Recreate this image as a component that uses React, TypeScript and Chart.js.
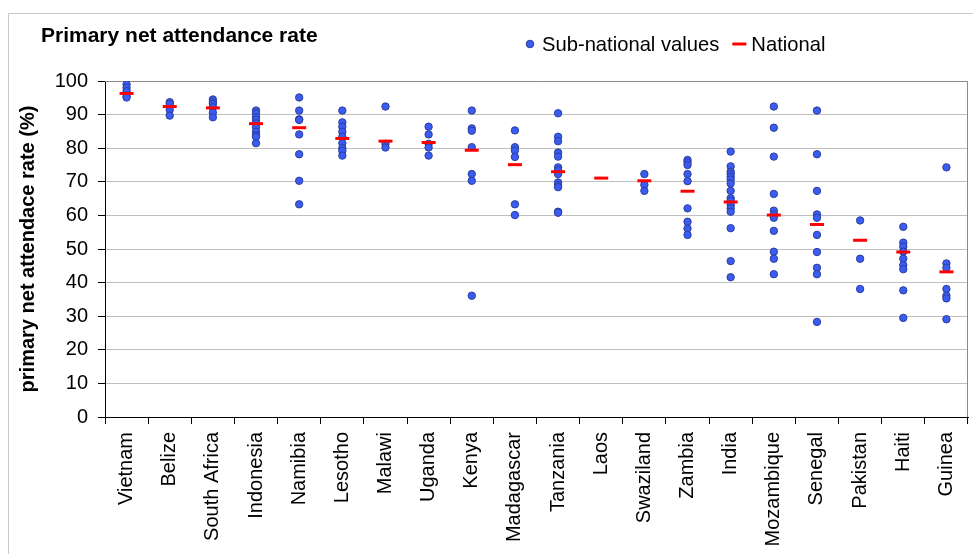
import React, { useEffect, useRef } from "react";
import { Chart, registerables } from "chart.js";

Chart.register(...registerables);

const countries = [
  "Vietnam", "Belize", "South Africa", "Indonesia", "Namibia", "Lesotho", "Malawi",
  "Uganda", "Kenya", "Madagascar", "Tanzania", "Laos", "Swaziland", "Zambia",
  "India", "Mozambique", "Senegal", "Pakistan", "Haiti", "Guinea",
];

const national = [96.3, 92.4, 92, 87.3, 86.1, 82.9, 82.1, 81.7, 79.4, 75.1, 73.0, 71.1, 70.3, 67.2, 64.0, 60.1, 57.3, 52.6, 49.1, 43.2];

const vietnam = [99, 98, 97, 95.5, 95.1];
const belize = [93.7, 93.2, 91.4, 89.7];
const southAfrica = [94.5, 93.8, 93.2, 92.2, 90.6, 89.2];
const indonesia = [91.2, 90.4, 89.2, 88.4, 87.4, 86.2, 84.9, 83.9, 83.4, 81.5];
const namibia = [95.1, 91.2, 88.6, 88.4, 84.1, 78.2, 70.3, 63.3];
const lesotho = [91.2, 87.7, 86.4, 84.9, 83.4, 81.5, 80, 79.2, 77.8];
const malawi = [92.4, 81.3, 80.2];
const uganda = [86.4, 84.1, 81.3, 80.2, 77.8];
const kenya = [91.2, 85.9, 85.2, 80.3, 72.3, 70.3, 36.1];
const madagascar = [85.3, 80.3, 79.3, 77.4, 63.3, 60.1];
const tanzania = [90.4, 83.4, 82.1, 78.7, 77.5, 74.3, 73.5, 72.3, 69.8, 69.0, 68.4, 61.1, 60.8];
const laos: number[] = [];
const swaziland = [72.3, 69.1, 67.3];
const zambia = [76.5, 75.8, 75.0, 72.3, 70.2, 62.1, 58.1, 56.1, 54.2];
const india = [79.0, 74.6, 73.0, 72.3, 71.5, 70.7, 69.5, 67.3, 65.1, 64.3, 63.1, 62.1, 61.1, 56.2, 46.4, 41.6];
const mozambique = [92.4, 86.1, 77.5, 66.4, 61.4, 60.3, 59.3, 55.4, 49.2, 47.1, 42.5];
const senegal = [91.2, 78.2, 67.3, 60.3, 59.3, 54.2, 49.1, 44.4, 42.5, 28.3];
const pakistan = [58.5, 47.1, 38.1];
const haiti = [56.6, 51.9, 50.7, 49.2, 47.1, 45.2, 44.0, 37.7, 29.5];
const guinea = [74.3, 45.7, 44.4, 38.1, 36.1, 35.3, 29.1];

const subNational = [
  vietnam, belize, southAfrica, indonesia, namibia, lesotho, malawi, uganda, kenya,
  madagascar, tanzania, laos, swaziland, zambia, india, mozambique, senegal, pakistan, haiti, guinea,
];

const yTicks = [0, 10, 20, 30, 40, 50, 60, 70, 80, 90, 100];

const FONT = "'Liberation Sans', Arial, sans-serif";
const DOT_FILL = "#3a5cf0";
const DOT_BORDER = "#2c3e9e";
const RED = "#ff0000";

const decorPlugin = {
  id: "decor",
  beforeDraw(chart: any) {
    const { ctx } = chart;
    ctx.save();
    ctx.fillStyle = "#ffffff";
    ctx.fillRect(0, 0, chart.width, chart.height);
    ctx.strokeStyle = "#c8c8c8";
    ctx.lineWidth = 1;
    ctx.beginPath();
    ctx.moveTo(8.5, chart.height);
    ctx.lineTo(8.5, 13.5);
    ctx.lineTo(chart.width, 13.5);
    ctx.stroke();
    ctx.restore();
  },
  beforeDatasetsDraw(chart: any) {
    const { ctx, chartArea: a } = chart;
    ctx.save();
    ctx.strokeStyle = "#8c8c8c";
    ctx.lineWidth = 1;
    ctx.beginPath();
    ctx.moveTo(a.left, Math.round(a.top) + 0.5);
    ctx.lineTo(Math.round(a.right) - 0.5, Math.round(a.top) + 0.5);
    ctx.lineTo(Math.round(a.right) - 0.5, a.bottom);
    ctx.stroke();
    ctx.restore();
  },
  afterDraw(chart: any) {
    const { ctx } = chart;
    ctx.save();
    // title
    ctx.fillStyle = "#000";
    ctx.font = `bold 21px ${FONT}`;
    ctx.textBaseline = "alphabetic";
    ctx.textAlign = "left";
    ctx.fillText("Primary net attendance rate", 41, 42);
    // legend
    const cy = 44;
    ctx.font = `20.2px ${FONT}`;
    ctx.textBaseline = "middle";
    ctx.beginPath();
    ctx.arc(530, cy, 3.8, 0, Math.PI * 2);
    ctx.fillStyle = DOT_FILL;
    ctx.fill();
    ctx.strokeStyle = DOT_BORDER;
    ctx.lineWidth = 1;
    ctx.stroke();
    ctx.fillStyle = "#000";
    const t1 = "Sub-national values";
    ctx.fillText(t1, 542, cy + 1);
    const w1 = ctx.measureText(t1).width;
    const lx = 542 + w1 + 13;
    ctx.strokeStyle = RED;
    ctx.lineWidth = 3;
    ctx.beginPath();
    ctx.moveTo(lx, cy);
    ctx.lineTo(lx + 14, cy);
    ctx.stroke();
    ctx.fillStyle = "#000";
    ctx.fillText("National", lx + 19, cy + 1);
    ctx.restore();
  },
};

export default function App() {
  const ref = useRef<HTMLCanvasElement | null>(null);

  useEffect(() => {
    document.body.style.margin = "0";
    const canvas = ref.current;
    if (!canvas) return;

    const subData: { x: string; y: number }[] = [];
    subNational.forEach((vals, i) => {
      vals.forEach((v) => subData.push({ x: countries[i], y: v }));
    });

    const chart = new Chart(canvas, {
      type: "line",
      data: {
        labels: countries,
        datasets: [
          {
            label: "National",
            data: national,
            showLine: false,
            pointStyle: "line",
            pointRadius: 7,
            pointHoverRadius: 7,
            borderColor: RED,
            backgroundColor: RED,
            pointBorderWidth: 3,
            order: 0,
          },
          {
            label: "Sub-national values",
            data: subData as any,
            showLine: false,
            pointStyle: "circle",
            pointRadius: 3.7,
            pointHoverRadius: 3.7,
            pointBackgroundColor: DOT_FILL,
            pointBorderColor: DOT_BORDER,
            pointBorderWidth: 1,
            borderColor: DOT_BORDER,
            backgroundColor: DOT_FILL,
            order: 1,
          },
        ],
      },
      options: {
        responsive: false,
        animation: false,
        devicePixelRatio: 1,
        layout: { autoPadding: false, padding: { top: 81, right: 5, left: 0, bottom: 0 } },
        plugins: {
          legend: { display: false },
          title: { display: false },
          tooltip: { enabled: false },
        },
        scales: {
          x: {
            type: "category",
            offset: true,
            grid: {
              offset: true,
              drawOnChartArea: false,
              drawTicks: true,
              tickLength: 7,
              tickColor: "#000",
            },
            border: { color: "#000", width: 1 },
            ticks: {
              color: "#000",
              font: { family: FONT, size: 20 },
              minRotation: 90,
              maxRotation: 90,
              autoSkip: false,
              padding: 8,
            },
            afterFit(scale: any) {
              scale.height = 137;
              scale.paddingLeft = 0;
              scale.paddingRight = 0;
            },
          },
          y: {
            min: 0,
            max: 100,
            afterBuildTicks(scale: any) {
              scale.ticks = yTicks.map((v) => ({ value: v }));
            },
            grid: {
              color: "#c0c0c0",
              lineWidth: 1,
              drawTicks: true,
              tickLength: 7,
              tickColor: "#000",
            },
            border: { color: "#000", width: 1 },
            ticks: {
              color: "#000",
              font: { family: FONT, size: 20 },
              padding: 10,
            },
            title: {
              display: true,
              text: "primary net attendace rate (%)",
              color: "#000",
              font: { family: FONT, size: 20, weight: "bold" },
              padding: { top: 16, bottom: 0 },
            },
            afterFit(scale: any) {
              scale.width = 105;
            },
          },
        },
      },
      plugins: [decorPlugin],
    });

    return () => chart.destroy();
  }, []);

  return <canvas ref={ref} width={973} height={554} style={{ display: "block" }} />;
}
